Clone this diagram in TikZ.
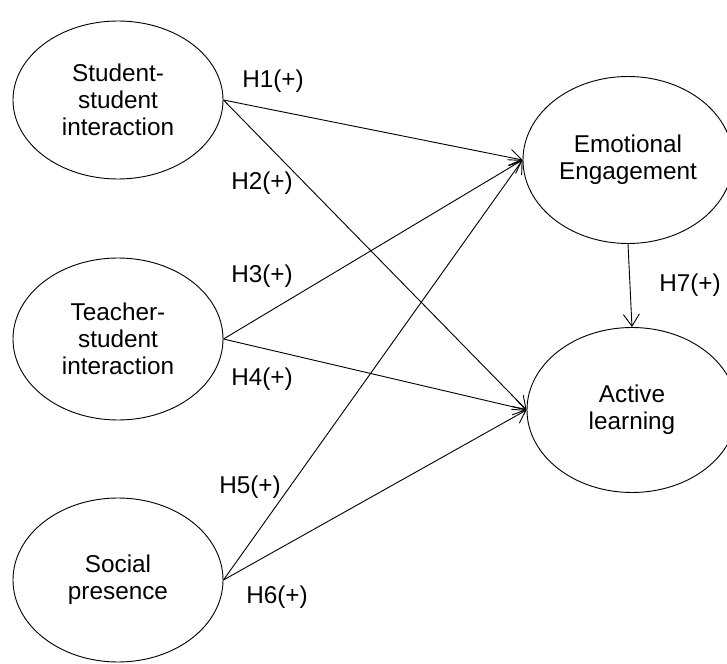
\documentclass[tikz,border=0pt]{standalone}
\usepackage{fontspec}
\setmainfont{Liberation Sans}
\usetikzlibrary{shapes,arrows.meta}
\newcommand{\construct}[4]{\node[draw,ellipse,line width=0.65pt,inner sep=0pt,align=center,minimum width=5.25cm,minimum height=#4cm] (#1) at (#2) {#3};}
\newcommand{\effect}[2]{\draw[line width=0.65pt,-{Straight Barb[length=0.3cm,width=0.4cm]}] (#1) -- (#2);}

\begin{document}
\begin{tikzpicture}[font=\fontsize{17.3}{19}\selectfont]
    \useasboundingbox (0,0) rectangle (18.175,-16.6);
    % exogenous constructs
    \construct{SS}{2.95,-2.5}{Student-\\student\\interaction}{3.95}
    \construct{TS}{2.95,-8.475}{Teacher-\\student\\interaction}{4.05}
    \construct{SP}{2.95,-14.5}{Social\\presence}{4.1}
    % endogenous constructs
    \construct{EE}{15.7,-4.0}{Emotional\\Engagement}{4.175}
    \construct{AL}{15.8,-10.25}{Active\\learning}{4.125}
    \effect{SS.east}{EE.west}\effect{SS.east}{AL.west}
    \effect{TS.east}{EE.west}\effect{TS.east}{AL.west}
    \effect{SP.east}{EE.west}\effect{SP.east}{AL.west}
    \effect{EE.south}{AL.north}
    % hypotheses
    \node (H1) at (6.825,-2.025) {H1(+)}; \node (H2) at (6.55,-4.575) {H2(+)};
    \node (H3) at (6.55,-6.9) {H3(+)};    \node (H4) at (6.55,-9.475) {H4(+)};
    \node (H5) at (6.25,-12.175) {H5(+)}; \node (H6) at (6.925,-14.925) {H6(+)};
    \node (H7) at (17.25,-7.125) {H7(+)};
\end{tikzpicture}
\end{document}
